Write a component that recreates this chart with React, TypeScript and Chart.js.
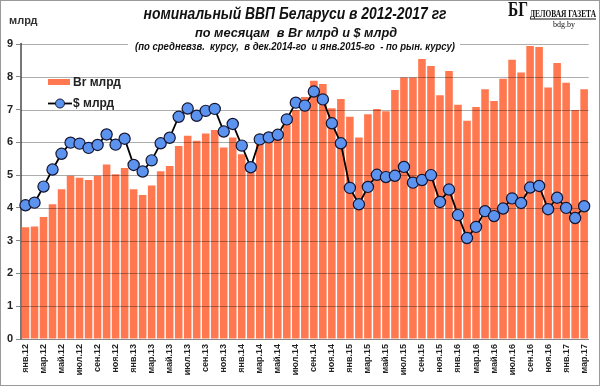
import React, { useEffect, useRef } from 'react';
import { Chart, registerables } from 'chart.js';

Chart.register(...registerables);

const MONTHS = ['янв', 'фев', 'мар', 'апр', 'май', 'июн', 'июл', 'авг', 'сен', 'окт', 'ноя', 'дек'];
const YEARS = ['12', '13', '14', '15', '16', '17'];
const MONTH_COUNT = 63; // янв.12 .. мар.17

const categories: string[] = [];
YEARS.forEach((yr) => MONTHS.forEach((m) => categories.push(`${m}.${yr}`)));
categories.length = MONTH_COUNT;

const brValues = [
  3.41, 3.43, 3.72, 4.11, 4.57, 4.98, 4.92, 4.85, 4.98, 5.32, 5.03, 5.22,
  4.57, 4.39, 4.68, 5.12, 5.28, 5.89, 6.2, 6.05, 6.27, 6.38, 5.84, 6.15,
  5.64, 5.07, 5.97, 6.07, 6.12, 6.55, 6.99, 7.38, 7.88, 7.78, 7.04, 7.32,
  6.78, 6.15, 6.86, 7.02, 6.95, 7.6, 7.98, 7.98, 8.54, 8.33, 7.44, 8.18,
  7.15, 6.66, 7.08, 7.62, 7.26, 7.94, 8.52, 8.13, 8.94, 8.91, 7.67, 8.42,
  7.82, 6.99, 7.62,
];

const usdValues = [
  4.08, 4.16, 4.65, 5.17, 5.65, 5.99, 5.96, 5.83, 5.92, 6.24, 5.93, 6.11,
  5.31, 5.11, 5.45, 5.97, 6.14, 6.78, 7.03, 6.81, 6.96, 7.02, 6.33, 6.56,
  5.9, 5.24, 6.09, 6.15, 6.23, 6.7, 7.21, 7.12, 7.55, 7.31, 6.58, 5.97,
  4.61, 4.11, 4.64, 5.01, 4.94, 4.98, 5.25, 4.77, 4.85, 5.0, 4.18, 4.56,
  3.78, 3.08, 3.42, 3.9, 3.75, 3.98, 4.29, 4.15, 4.62, 4.67, 3.96, 4.31,
  4.0, 3.69, 4.05,
];

const yTicks = [0, 1, 2, 3, 4, 5, 6, 7, 8, 9];

const TITLE_1 = 'номинальный ВВП Беларуси в 2012-2017 гг';
const TITLE_2 = 'по месяцам  в Br млрд и $ млрд';
const TITLE_3 = '(по средневзв.  курсу,  в дек.2014-го  и янв.2015-го  - по рын. курсу)';
const Y_UNIT = 'млрд';
const LEGEND_BR = 'Br млрд';
const LEGEND_USD = '$ млрд';

const BAR_COLOR = '#FF7850';
const POINT_COLOR = '#5B93EE';

const gridOverlay = {
  id: 'gridOverlay',
  afterDatasetDraw(chart: any, args: any) {
    if (args.index !== 0) return;
    const { ctx, chartArea, scales } = chart;
    const y = scales.y;
    ctx.save();
    ctx.strokeStyle = 'rgba(0,0,0,0.32)';
    ctx.lineWidth = 1;
    for (const t of yTicks) {
      if (t === 0) continue;
      const py = Math.round(y.getPixelForValue(t)) + 0.5;
      ctx.beginPath();
      ctx.moveTo(chartArea.left, py);
      ctx.lineTo(chartArea.right, py);
      ctx.stroke();
    }
    ctx.restore();
  },
};

const decor = {
  id: 'decor',
  afterDraw(chart: any) {
    const ctx: CanvasRenderingContext2D = chart.ctx;
    ctx.save();
    // white knock-out behind subtitle line 3
    ctx.fillStyle = '#fff';
    ctx.fillRect(128, 39, 332, 15);

    ctx.fillStyle = '#111';
    ctx.textAlign = 'center';
    ctx.textBaseline = 'middle';
    ctx.font = 'italic bold 16px "Liberation Sans", Arial, sans-serif';
    ctx.fillText(TITLE_1, 295, 15, 303);
    ctx.font = 'italic bold 13px "Liberation Sans", Arial, sans-serif';
    ctx.fillText(TITLE_2, 296, 33, 202);
    ctx.font = 'italic bold 10px "Liberation Sans", Arial, sans-serif';
    ctx.fillText(TITLE_3, 295, 47, 320);

    // unit label
    ctx.textAlign = 'left';
    ctx.fillStyle = '#333';
    ctx.font = 'bold 11px "Liberation Sans", Arial, sans-serif';
    ctx.fillText(Y_UNIT, 9, 21);

    // legend
    ctx.fillStyle = BAR_COLOR;
    ctx.fillRect(48, 79, 22, 6);
    ctx.fillStyle = '#222';
    ctx.font = 'bold 12px "Liberation Sans", Arial, sans-serif';
    ctx.fillText(LEGEND_BR, 73, 82.5);
    ctx.strokeStyle = '#000';
    ctx.lineWidth = 1.8;
    ctx.beginPath();
    ctx.moveTo(48, 103.5);
    ctx.lineTo(72, 103.5);
    ctx.stroke();
    ctx.beginPath();
    ctx.arc(60, 103.5, 4.5, 0, Math.PI * 2);
    ctx.fillStyle = POINT_COLOR;
    ctx.fill();
    ctx.lineWidth = 1;
    ctx.strokeStyle = '#1a1a33';
    ctx.stroke();
    ctx.fillStyle = '#222';
    ctx.fillText(LEGEND_USD, 73, 104);

    // logo
    ctx.fillStyle = '#111';
    ctx.font = 'bold 20px "Liberation Serif", "DejaVu Serif", serif';
    ctx.textAlign = 'left';
    ctx.fillText('БГ', 508, 11, 20);
    ctx.font = 'bold 10px "Liberation Serif", "DejaVu Serif", serif';
    ctx.fillText('ДЕЛОВАЯ ГАЗЕТА', 530, 14, 66);
    ctx.fillRect(530, 18.5, 66, 1);
    ctx.font = '8px "Liberation Serif", "DejaVu Serif", serif';
    ctx.textAlign = 'center';
    ctx.fillText('bdg.by', 564, 25);

    // outer frame
    ctx.strokeStyle = '#999';
    ctx.lineWidth = 1;
    ctx.strokeRect(0.5, 0.5, 599, 385);
    ctx.restore();
  },
};

export default function App() {
  const canvasRef = useRef<HTMLCanvasElement | null>(null);

  useEffect(() => {
    document.body.style.margin = '0';
    const canvas = canvasRef.current;
    if (!canvas) return;
    const chart = new Chart(canvas, {
      type: 'bar',
      data: {
        labels: categories,
        datasets: [
          {
            type: 'bar',
            label: LEGEND_BR,
            data: brValues,
            backgroundColor: BAR_COLOR,
            barPercentage: 0.84,
            categoryPercentage: 1,
            order: 1,
          },
          {
            type: 'line',
            label: LEGEND_USD,
            data: usdValues,
            borderColor: '#000',
            borderWidth: 1.8,
            pointRadius: 5.6,
            pointBackgroundColor: POINT_COLOR,
            pointBorderColor: '#151530',
            pointBorderWidth: 1.2,
            tension: 0,
            order: 0,
          },
        ] as any,
      },
      options: {
        animation: false,
        responsive: false,
        devicePixelRatio: 1,
        layout: { padding: { top: 44, right: 3, left: 0, bottom: 0 } },
        plugins: {
          legend: { display: false },
          title: { display: false },
          tooltip: { enabled: false },
        },
        scales: {
          x: {
            offset: true,
            grid: { display: true, drawOnChartArea: false, drawTicks: false },
            border: { color: '#888', width: 1 },
            ticks: {
              autoSkip: false,
              maxRotation: 90,
              minRotation: 90,
              padding: 5,
              color: '#222',
              font: { family: '"Liberation Sans", Arial, sans-serif', size: 9, weight: 'bold' },
              callback: (_v: any, i: number) => (i % 2 === 0 ? categories[i] : ''),
            },
            afterFit: (s: any) => {
              s.height = 47;
            },
          },
          y: {
            min: 0,
            max: 9,
            ticks: {
              stepSize: 1,
              padding: 3,
              color: '#222',
              font: { family: '"Liberation Sans", Arial, sans-serif', size: 11, weight: 'bold' },
            },
            grid: { drawOnChartArea: false, drawTicks: true, tickLength: 5, color: '#888' },
            border: { color: '#777', width: 2 },
            afterFit: (s: any) => {
              s.width = 21;
            },
          },
        },
      } as any,
      plugins: [gridOverlay, decor],
    });
    return () => chart.destroy();
  }, []);

  return (
    <div style={{ position: 'fixed', left: 0, top: 0, width: 600, height: 386, background: '#fff' }}>
      <canvas ref={canvasRef} width={600} height={386} style={{ display: 'block' }} />
    </div>
  );
}
